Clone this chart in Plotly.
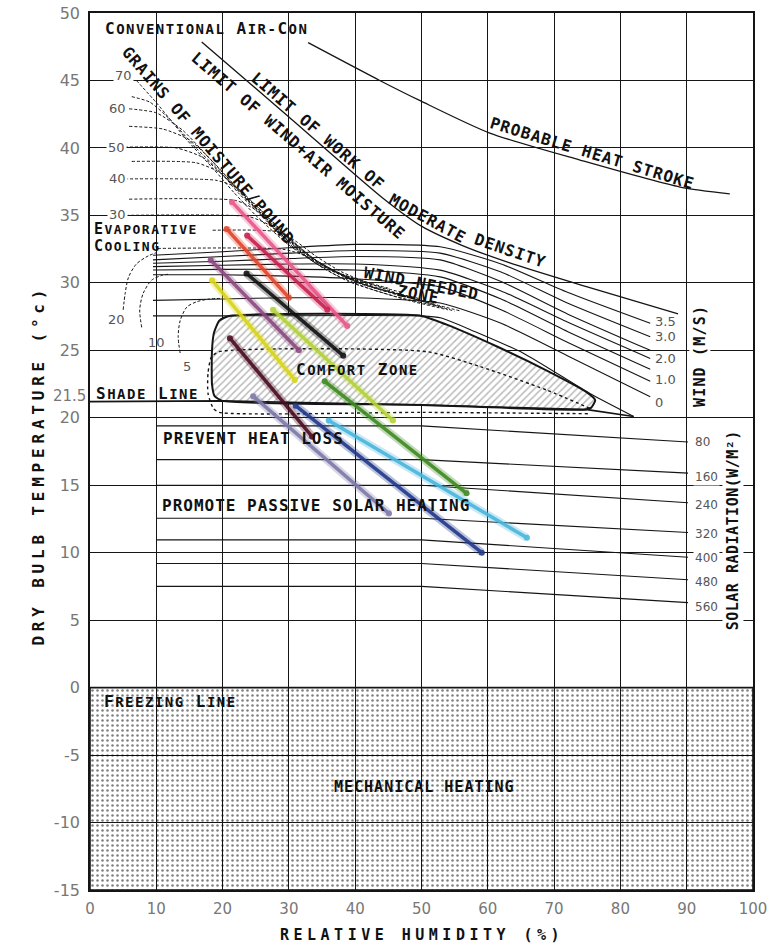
import plotly.graph_objects as go

# ---------------- axis ticks ----------------
x_ticks = [0, 10, 20, 30, 40, 50, 60, 70, 80, 90, 100]
y_ticks = [-15, -10, -5, 0, 5, 10, 15, 20, 25, 30, 35, 40, 45, 50]

# ---------------- comfort zone ----------------
comfort_x = [21.0, 50.0, 53.8, 61.3, 68.9, 74.9, 76.2, 75.6, 74.5, 50.0, 20.0, 18.8, 18.4, 18.4, 18.7, 19.5, 21.0]
comfort_y = [27.55, 27.55, 26.9, 25.3, 23.5, 21.9, 21.3, 20.75, 20.6, 20.95, 21.25, 21.6, 22.5, 25.0, 26.3, 27.2, 27.55]

inner_x = [75.4, 68.9, 58.8, 50.8, 19.5, 18.3, 17.8, 17.8, 18.6, 19.5, 50.0, 75.5]
inner_y = [20.7, 22.05, 23.8, 24.9, 24.9, 24.5, 23.3, 21.8, 20.7, 20.4, 20.4, 20.3]

shade_x = [0, 20, 50, 75, 82]
shade_y = [21.2, 21.25, 20.95, 20.6, 20.1]

upper_x = [9.5, 20, 50, 53, 58, 65.3, 75.4, 82]
upper_y = [27.55, 27.55, 27.55, 27.4, 26.4, 24.8, 21.8, 20.1]

# ---------------- wind lines (m/s) ----------------
wind_x = [9.5, 20, 30, 40, 52.8, 62, 72, 84.5]
wind_lines = [
    [32.05, 32.3, 32.6, 32.85, 32.67, 31.4, 29.3, 27.0],
    [31.7, 31.95, 32.2, 32.4, 32.2, 30.8, 28.5, 26.0],
    [31.45, 31.6, 31.8, 31.95, 31.7, 30.1, 27.7, 25.0],
    [31.2, 31.3, 31.4, 31.4, 30.94, 29.4, 27.1, 24.4],
    [30.95, 31.0, 31.0, 30.95, 30.44, 28.8, 26.4, 23.6],
    [30.6, 30.6, 30.5, 30.3, 29.7, 28.0, 25.6, 22.7],
    [28.7, 28.8, 28.9, 28.9, 28.5, 27.0, 24.6, 21.55],
]
wind_labels = ["3.5", "3.0", "2.0", "1.0", "0"]
wind_label_y = [27.1, 26.0, 24.4, 22.8, 21.1]

# ---------------- solar radiation lines (W/m2) ----------------
solar_x = [10, 50, 90.2]
solar_lines = [
    [19.4, 19.4, 18.2],
    [16.9, 16.9, 15.9],
    [15.0, 15.0, 13.7],
    [12.55, 12.55, 11.5],
    [10.95, 10.95, 9.66],
    [9.2, 9.2, 8.0],
    [7.5, 7.5, 6.3],
]
solar_labels = ["80", "160", "240", "320", "400", "480", "560"]
solar_label_y = [18.2, 15.6, 13.5, 11.4, 9.6, 7.8, 6.0]

# ---------------- grains of moisture / pound ----------------
grain_lines = [
    ([7.0, 10.1, 14.6, 18.7, 21.7, 25, 30, 35, 42], [45.0, 43.3, 40.6, 38.4, 36.7, 35.0, 32.8, 31.2, 30.0]),
    ([6.3, 9, 12.1, 16, 19.5, 22.5, 26, 31, 37, 45], [43.8, 43.4, 42.1, 40.0, 38.3, 36.6, 34.9, 32.5, 30.8, 29.6]),
    ([5.9, 10, 14, 17.5, 20.5, 23.5, 27, 32, 39, 47], [42.9, 42.6, 41.3, 39.5, 37.9, 36.3, 34.6, 32.3, 30.4, 29.3]),
    ([5.9, 11, 15, 18.5, 21.5, 24.5, 28, 33, 40, 48], [41.6, 41.4, 40.6, 39.0, 37.4, 35.9, 34.2, 32.0, 30.1, 29.0]),
    ([4.5, 13, 17, 20, 23, 26, 29.5, 34, 41, 50], [40.05, 40.0, 39.3, 38.0, 36.6, 35.3, 33.6, 31.7, 29.9, 28.8]),
    ([6.3, 16, 19.5, 22, 25, 28, 31.5, 36, 43, 51], [39.0, 38.9, 38.2, 37.0, 35.5, 34.1, 32.6, 31.0, 29.6, 28.6]),
    ([4.5, 19, 22, 24.5, 27.5, 30.5, 34, 38.5, 45, 52], [37.7, 37.6, 37.1, 36.0, 34.5, 33.1, 31.7, 30.4, 29.3, 28.4]),
    ([5.9, 22, 25, 28, 31, 34.5, 39, 46, 53], [36.2, 36.1, 35.4, 34.0, 32.6, 31.3, 30.1, 29.0, 28.2]),
    ([5.4, 24, 27, 30, 33, 37, 42, 48, 54], [35.0, 34.9, 34.3, 33.1, 31.8, 30.6, 29.6, 28.7, 28.0]),
    ([18.5, 28, 31, 34, 38, 43, 49, 55], [33.9, 33.8, 33.1, 32.0, 30.8, 29.8, 28.8, 27.9]),
    ([10.2, 29, 32, 36, 40, 46, 52, 56], [32.55, 32.5, 32.1, 31.1, 30.2, 29.2, 28.4, 27.9]),
]
grain_labels = ["70", "60", "50", "40", "30"]
grain_label_x = [5.1, 4.15, 4.0, 4.1, 4.1]
grain_label_y = [45.4, 42.9, 40.0, 37.7, 35.1]

evap_curves = [
    ([5.0, 5.3, 5.8, 7.0, 8.8, 10.1], [28.0, 29.2, 30.4, 31.4, 32.0, 32.25]),
    ([7.8, 7.5, 8.0, 9.3, 10.8, 12.0], [26.7, 28.0, 29.2, 30.2, 30.55, 30.65]),
    ([13.6, 13.3, 13.6, 14.6, 16.1, 18.0, 20.0], [24.8, 26.0, 27.2, 28.2, 28.6, 28.8, 28.85]),
]
evap_labels = ["20", "10", "5"]
evap_label_x = [4.0, 10.05, 14.6]
evap_label_y = [27.25, 25.6, 23.8]

# ---------------- limit lines ----------------
limit_x = [16.85, 30, 44, 50, 56, 63.2, 75, 88.7]
limit_y = [47.85, 42.3, 36.35, 34.2, 32.8, 31.5, 29.7, 27.7]

stroke_x = [32.9, 43.7, 49.8, 60.3, 73.9, 89.0, 96.5]
stroke_y = [47.8, 45.0, 43.5, 41.1, 39.1, 37.1, 36.6]

# ---------------- monthly climate lines ----------------
month_colors = ["#e8578a", "#c8204e", "#e2452c", "#111111", "#8c4a80", "#d9d51a",
                "#b4d23a", "#3f8a22", "#48b6dc", "#4a0d22", "#22398c", "#7d7aaa"]
rh_low = [21.4, 23.7, 20.6, 23.6, 18.2, 18.4, 27.6, 35.4, 36.0, 21.1, 31.0, 24.6]
t_high = [36.0, 33.5, 34.0, 30.7, 31.7, 30.2, 28.0, 22.7, 19.8, 25.9, 20.9, 21.6]
rh_high = [38.8, 35.8, 30.0, 38.2, 31.5, 30.9, 45.7, 56.8, 65.9, 33.5, 59.1, 45.1]
t_low = [26.8, 28.0, 28.9, 24.6, 25.0, 22.8, 19.8, 14.4, 11.1, 18.6, 10.0, 12.9]

# ---------------- figure ----------------
fig = go.Figure()
INK = "#151515"

def line(x, y, width=1.1, dash="solid", color=INK, shape="spline", smoothing=0.8):
    fig.add_trace(go.Scatter(x=x, y=y, mode="lines", hoverinfo="skip", showlegend=False,
                             line=dict(color=color, width=width, dash=dash, shape=shape,
                                       smoothing=smoothing if shape == "spline" else None)))

# mechanical heating region
fig.add_trace(go.Scatter(x=[0, 100, 100, 0, 0], y=[0, 0, -15, -15, 0], mode="lines",
                         fill="toself", fillcolor="rgba(0,0,0,0)", hoverinfo="skip", showlegend=False,
                         fillpattern=dict(shape=".", fgcolor="#000", bgcolor="rgba(0,0,0,0)",
                                          size=5, solidity=0.2),
                         line=dict(color=INK, width=1.6)))

# comfort zone
fig.add_trace(go.Scatter(x=comfort_x, y=comfort_y, mode="lines", fill="toself",
                         fillcolor="white", hoverinfo="skip", showlegend=False,
                         fillpattern=dict(shape="/", fgcolor="#777", bgcolor="white",
                                          size=5, solidity=0.3),
                         line=dict(color=INK, width=2, shape="spline", smoothing=0.5)))
line(inner_x, inner_y, width=1.4, dash="dot", smoothing=0.6)
line(shade_x, shade_y, width=1.6, shape="linear")
line(upper_x, upper_y, width=1.1, smoothing=0.6)

for wy in wind_lines:
    line(wind_x, wy, width=1.1, smoothing=0.6)
for sy in solar_lines:
    line(solar_x, sy, width=1.1, shape="linear")
for gx, gy in grain_lines:
    line(gx, gy, width=1.0, dash="3px,2px", smoothing=0.6)
for cx, cy in evap_curves:
    line(cx, cy, width=1.0, dash="3px,2px")
line(limit_x, limit_y, width=1.3, smoothing=0.7)
line(stroke_x, stroke_y, width=1.3, smoothing=0.7)

# monthly lines
for c, x0, y0, x1, y1 in zip(month_colors, rh_low, t_high, rh_high, t_low):
    fig.add_trace(go.Scatter(x=[x0, x1], y=[y0, y1], mode="lines", hoverinfo="skip", showlegend=False,
                             opacity=0.3, line=dict(color=c, width=8)))
    fig.add_trace(go.Scatter(x=[x0, x1], y=[y0, y1], mode="lines+markers", hoverinfo="skip",
                             showlegend=False, opacity=0.9, line=dict(color=c, width=3.5),
                             marker=dict(color=c, size=6)))

# ---------------- text ----------------
MONO = "DejaVu Sans Mono"
ann = []

def sp(text, ls=1.0, size=None):
    st = f"letter-spacing:{ls}px"
    if size:
        st += f";font-size:{size}px"
    return f"<span style='{st}'>{text}</span>"

def smallcaps(text, big=16, small=14, ls=1.5):
    out = []
    for wi, word in enumerate(text.split(" ")):
        if wi:
            out.append(sp(" ", ls, big))
        parts = word.split("-")
        for pi, p in enumerate(parts):
            if pi:
                out.append(sp("-", ls, small))
            out.append(sp(p[0], ls, big))
            if len(p) > 1:
                out.append(sp(p[1:], ls, small))
    return "".join(out)

def label(text, x, y, size=16, angle=0, xanchor="center", bg=None, color="#111", weight="bold",
          family=MONO, xref="x", yref="y"):
    d = dict(text=text, x=x, y=y, xref=xref, yref=yref, showarrow=False, textangle=angle,
             xanchor=xanchor, yanchor="middle", borderpad=0,
             font=dict(family=family, size=size, color=color, weight=weight))
    if bg:
        d["bgcolor"] = bg
        d["borderpad"] = 1
    ann.append(d)

label(smallcaps("CONVENTIONAL AIR-CON"), 17.6, 48.83)
label(sp("LIMIT OF WORK OF"), 34.45, 41.25, angle=40.9)
label(sp("MODERATE"), 50.9, 34.75, angle=28.6)
label(sp("DENSITY"), 63.3, 32.4, angle=18.9)
label(sp("LIMIT OF WIND+AIR MOISTURE"), 31.35, 40.15, angle=40.9)
label(sp("GRAINS OF MOISTURE/POUND"), 17.84, 40.2, angle=49.3)
label(sp("PROBABLE HEAT STROKE"), 75.8, 39.6, angle=16.9)
label(sp("WIND NEEDED"), 50.0, 29.98, angle=11)
label(sp("ZONE"), 49.6, 29.1, angle=11)
label(smallcaps("COMFORT ZONE"), 40.4, 23.6)
label(smallcaps("SHADE LINE"), 0.75, 21.83, xanchor="left")
label(smallcaps("EVAPORATIVE", 15, 13), 0.5, 34.02, xanchor="left")
label(smallcaps("COOLING", 15, 13), 0.5, 32.7, xanchor="left")
label(sp("PREVENT HEAT LOSS"), 10.8, 18.5, xanchor="left")
label(sp("PROMOTE PASSIVE SOLAR HEATING"), 10.7, 13.53, xanchor="left")
label(smallcaps("FREEZING LINE"), 2.0, -1.04, xanchor="left")
label(sp("MECHANICAL HEATING"), 50.5, -7.33, size=15)
label(sp("WIND (M/S)", 1.2), 92.0, 24.57, size=15, angle=-90, bg="white")
label(sp("SOLAR RADIATION(W/M²)", 0.5), 97.0, 11.67, size=15, angle=-90, bg="white")

NUM = "DejaVu Sans"
for t, yy in zip(wind_labels, wind_label_y):
    label(t, 85.0, yy, size=13, xanchor="left", color="#555", weight="normal", family=NUM)
for t, yy in zip(solar_labels, solar_label_y):
    label(t, 91.0, yy, size=12, xanchor="left", color="#555", weight="normal", family=NUM, bg="white")
for t, xx, yy in zip(grain_labels, grain_label_x, grain_label_y):
    label(t, xx, yy, size=13, color="#555", weight="normal", family=NUM, bg="white")
for t, xx, yy in zip(evap_labels, evap_label_x, evap_label_y):
    label(t, xx, yy, size=13, color="#555", weight="normal", family=NUM)
label("21.5", -0.004, 21.6, size=15, xanchor="right", color="#777", weight="normal", family=NUM, xref="paper")

# axis titles
label(sp("RELATIVE HUMIDITY (%)", 4.5), 0.5, -0.0513, size=15, xref="paper", yref="paper")
label(sp("DRY BULB TEMPERATURE (°c)", 4.8), -0.077, 0.485, size=16, angle=-90, xref="paper", yref="paper")

fig.update_layout(
    width=774, height=944,
    margin=dict(l=90, r=21, t=13, b=54, autoexpand=False),
    plot_bgcolor="white", paper_bgcolor="white",
    showlegend=False, annotations=ann,
)
fig.update_xaxes(range=[0, 100], tickvals=x_ticks, ticktext=[str(v) for v in x_ticks],
                 showgrid=True, gridcolor=INK, gridwidth=1.2, zeroline=False, automargin=False,
                 showline=True, linecolor=INK, linewidth=1.6, mirror=True, ticks="",
                 ticklabeloverflow="allow",
                 tickfont=dict(family=NUM, size=15, color="#777"), ticklabelstandoff=4)
fig.update_yaxes(range=[-15, 50], tickvals=y_ticks, ticktext=[str(v) for v in y_ticks],
                 showgrid=True, gridcolor=INK, gridwidth=1.2, zeroline=False, automargin=False,
                 showline=True, linecolor=INK, linewidth=1.6, mirror=True, ticks="",
                 ticklabeloverflow="allow",
                 tickfont=dict(family=NUM, size=16, color="#777"), ticklabelstandoff=5)

# remove the default page margin so the 774x944 figure fills the window exactly
fig.write_html("out.html", config={"displayModeBar": False},
               post_script="document.body.style.margin='0';")
